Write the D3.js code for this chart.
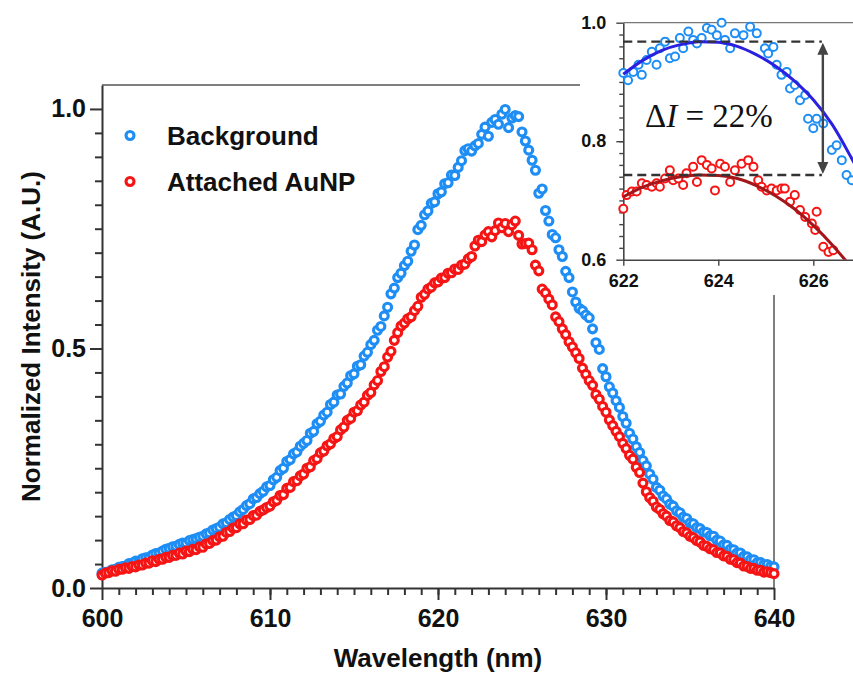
<!DOCTYPE html>
<html>
<head>
<meta charset="utf-8">
<script src="https://cdn.jsdelivr.net/npm/d3@7"></script>
<style>
  body { margin: 0; background: #fff; }
  svg { display: block; }
  text { font-family: "Liberation Sans", Arial, sans-serif; font-weight: bold; fill: #111; }
</style>
</head>
<body>
<svg id="chart" width="853" height="675"></svg>
<script>
// ---------------------------------------------------------------------------
// Data
// ---------------------------------------------------------------------------
// spectra are sampled every 0.2 nm from 600 to 640 nm
const wavelength = d3.range(0, 201).map(i => 600 + i * 0.2);

const background = [
  0.031, 0.033, 0.034, 0.038, 0.039, 0.043, 0.045, 0.046, 0.051, 0.052,
  0.056, 0.056, 0.061, 0.063, 0.064, 0.069, 0.072, 0.073, 0.077, 0.081,
  0.083, 0.086, 0.087, 0.091, 0.094, 0.094, 0.099, 0.101, 0.103, 0.106,
  0.108, 0.113, 0.115, 0.121, 0.124, 0.127, 0.134, 0.136, 0.143, 0.148,
  0.151, 0.159, 0.164, 0.172, 0.176, 0.186, 0.189, 0.197, 0.202, 0.211,
  0.214, 0.226, 0.231, 0.245, 0.250, 0.264, 0.268, 0.280, 0.284, 0.296,
  0.302, 0.308, 0.323, 0.327, 0.343, 0.348, 0.361, 0.367, 0.383, 0.388,
  0.403, 0.405, 0.421, 0.428, 0.443, 0.447, 0.463, 0.466, 0.484, 0.492,
  0.508, 0.517, 0.538, 0.546, 0.568, 0.586, 0.614, 0.626, 0.648, 0.657,
  0.673, 0.682, 0.703, 0.716, 0.748, 0.757, 0.779, 0.787, 0.803, 0.806,
  0.823, 0.827, 0.844, 0.846, 0.862, 0.861, 0.878, 0.892, 0.913, 0.917,
  0.912, 0.923, 0.928, 0.947, 0.962, 0.943, 0.972, 0.978, 0.968, 0.989,
  0.999, 0.961, 0.981, 0.986, 0.984, 0.952, 0.933, 0.914, 0.893, 0.872,
  0.824, 0.833, 0.788, 0.766, 0.738, 0.731, 0.706, 0.692, 0.661, 0.648,
  0.618, 0.597, 0.584, 0.579, 0.570, 0.564, 0.541, 0.512, 0.498, 0.458,
  0.441, 0.420, 0.407, 0.391, 0.377, 0.358, 0.344, 0.323, 0.311, 0.295,
  0.283, 0.266, 0.255, 0.238, 0.227, 0.210, 0.204, 0.192, 0.186, 0.175,
  0.171, 0.161, 0.157, 0.148, 0.145, 0.136, 0.134, 0.126, 0.124, 0.117,
  0.116, 0.109, 0.108, 0.100, 0.098, 0.090, 0.089, 0.081, 0.080, 0.073,
  0.073, 0.066, 0.065, 0.059, 0.059, 0.053, 0.053, 0.049, 0.049, 0.045,
  0.044
];

const attached = [
  0.027, 0.031, 0.032, 0.036, 0.035, 0.039, 0.039, 0.042, 0.041, 0.045,
  0.044, 0.048, 0.048, 0.052, 0.052, 0.057, 0.055, 0.060, 0.060, 0.064,
  0.064, 0.068, 0.068, 0.073, 0.071, 0.077, 0.076, 0.081, 0.080, 0.086,
  0.085, 0.092, 0.093, 0.099, 0.100, 0.107, 0.108, 0.116, 0.118, 0.125,
  0.126, 0.134, 0.134, 0.142, 0.143, 0.151, 0.152, 0.160, 0.163, 0.168,
  0.171, 0.180, 0.183, 0.193, 0.195, 0.208, 0.210, 0.222, 0.224, 0.234,
  0.238, 0.250, 0.253, 0.266, 0.270, 0.282, 0.286, 0.297, 0.301, 0.312,
  0.316, 0.330, 0.336, 0.350, 0.354, 0.367, 0.370, 0.382, 0.388, 0.402,
  0.408, 0.424, 0.433, 0.452, 0.462, 0.482, 0.494, 0.517, 0.533, 0.547,
  0.553, 0.562, 0.566, 0.579, 0.588, 0.607, 0.613, 0.624, 0.628, 0.637,
  0.639, 0.647, 0.648, 0.657, 0.658, 0.666, 0.665, 0.674, 0.676, 0.687,
  0.692, 0.714, 0.726, 0.723, 0.737, 0.744, 0.733, 0.746, 0.762, 0.752,
  0.761, 0.744, 0.758, 0.766, 0.736, 0.718, 0.719, 0.720, 0.706, 0.674,
  0.662, 0.624, 0.616, 0.603, 0.591, 0.566, 0.556, 0.541, 0.529, 0.514,
  0.503, 0.491, 0.479, 0.459, 0.446, 0.433, 0.423, 0.404, 0.394, 0.379,
  0.367, 0.351, 0.339, 0.327, 0.316, 0.302, 0.291, 0.277, 0.269, 0.252,
  0.241, 0.219, 0.201, 0.189, 0.181, 0.169, 0.164, 0.155, 0.150, 0.141,
  0.138, 0.130, 0.126, 0.118, 0.115, 0.108, 0.105, 0.099, 0.096, 0.089,
  0.087, 0.082, 0.080, 0.074, 0.073, 0.067, 0.066, 0.060, 0.059, 0.053,
  0.052, 0.046, 0.045, 0.041, 0.041, 0.037, 0.037, 0.033, 0.034, 0.032,
  0.030
];

// zoomed inset (622-627 nm), finer sampling
const insetBgWl = [622.00, 622.10, 622.21, 622.32, 622.39, 622.49, 622.60, 622.70, 622.77, 622.88,
  622.98, 623.09, 623.19, 623.26, 623.37, 623.47, 623.55, 623.65, 623.76, 623.86,
  623.97, 624.07, 624.14, 624.25, 624.35, 624.53, 624.67, 624.81, 624.98, 625.05,
  625.16, 625.23, 625.33, 625.44, 625.51, 625.61, 625.72, 625.83, 625.89, 626.00,
  626.07, 626.21, 626.39, 626.49, 626.60, 626.70, 626.81];
const insetBg = [0.915, 0.903, 0.917, 0.929, 0.912, 0.937, 0.951, 0.929, 0.957, 0.968,
  0.940, 0.943, 0.974, 0.957, 0.985, 0.971, 0.965, 0.974, 0.991, 0.988,
  0.979, 1.000, 0.971, 0.957, 0.982, 0.979, 0.993, 0.982, 0.957, 0.948,
  0.959, 0.929, 0.912, 0.917, 0.889, 0.895, 0.869, 0.878, 0.838, 0.822,
  0.838, 0.830, 0.785, 0.793, 0.768, 0.743, 0.734];

const insetAuWl = [622.00, 622.07, 622.18, 622.28, 622.39, 622.49, 622.60, 622.70, 622.77, 622.88,
  622.98, 623.05, 623.16, 623.26, 623.33, 623.47, 623.55, 623.65, 623.76, 623.86,
  623.93, 624.04, 624.14, 624.25, 624.35, 624.49, 624.63, 624.74, 624.84, 624.91,
  625.02, 625.12, 625.23, 625.33, 625.40, 625.51, 625.61, 625.72, 625.83, 625.97,
  626.04, 626.07, 626.21, 626.32, 626.42];
const insetAu = [0.686, 0.709, 0.715, 0.715, 0.729, 0.726, 0.723, 0.729, 0.723, 0.737,
  0.751, 0.734, 0.737, 0.726, 0.746, 0.757, 0.731, 0.768, 0.760, 0.754,
  0.717, 0.762, 0.757, 0.731, 0.751, 0.762, 0.768, 0.757, 0.734, 0.723,
  0.717, 0.720, 0.717, 0.720, 0.720, 0.698, 0.709, 0.684, 0.672, 0.661,
  0.650, 0.681, 0.622, 0.613, 0.616];

// fitted curves in the inset
const fitWl = [622.0, 622.4, 622.8, 623.2, 623.6, 624.0, 624.4, 624.8, 625.2, 625.6, 626.0, 626.4, 626.8, 627.0];
const fitBg = [0.913, 0.936, 0.953, 0.963, 0.968, 0.967, 0.960, 0.946, 0.927, 0.902, 0.870, 0.828, 0.772, 0.742];
const fitAu = [0.706, 0.722, 0.733, 0.740, 0.743, 0.742, 0.737, 0.725, 0.708, 0.686, 0.658, 0.625, 0.587, 0.567];

const peakBg = 0.968, peakAu = 0.743, deltaEnd = 626.18;

const xTicks = [600, 610, 620, 630, 640];
const yTicks = [0, 0.5, 1.0];
const insetXTicks = [622, 624, 626];
const insetYTicks = [0.6, 0.8, 1.0];

const seriesNames = ['Background', 'Attached AuNP'];
const blue = '#1e8ef5', red = '#f51515';
const fitBlue = '#2a20e0', fitRed = '#a3161a';

// ---------------------------------------------------------------------------
// Main chart
// ---------------------------------------------------------------------------
const svg = d3.select('#chart');

const x = d3.scaleLinear().domain([600, 640]).range([102, 774]);
const y = d3.scaleLinear().domain([0, 1.05]).range([588, 85]);

// frame (top / right)
svg.append('path')
  .attr('d', `M${x(600)},${y(1.05)}H${x(640)}V${y(0)}`)
  .attr('fill', 'none').attr('stroke', '#555').attr('stroke-width', 1.5);

function styleAxis(g, fontSize) {
  g.selectAll('.domain').attr('stroke', '#333').attr('stroke-width', 2);
  g.selectAll('.tick line').attr('stroke', '#333').attr('stroke-width', 2);
  g.selectAll('.tick text')
    .attr('fill', '#111').style('font-size', fontSize + 'px')
    .style('font-family', '"Liberation Sans", Arial, sans-serif').style('font-weight', 'bold');
}

// minor ticks
svg.append('g').attr('transform', `translate(0,${y(0)})`)
  .call(d3.axisBottom(x).tickValues(d3.range(601, 640)).tickSize(7).tickFormat(''))
  .call(g => { g.select('.domain').remove(); styleAxis(g, 0); });
svg.append('g').attr('transform', `translate(${x(600)},0)`)
  .call(d3.axisLeft(y).tickValues(d3.range(1, 20).map(i => i * 0.05)).tickSize(7).tickFormat(''))
  .call(g => { g.select('.domain').remove(); styleAxis(g, 0); });

// major axes
svg.append('g').attr('transform', `translate(0,${y(0)})`)
  .call(d3.axisBottom(x).tickValues(xTicks).tickSize(12).tickSizeOuter(0).tickPadding(9).tickFormat(d3.format('d')))
  .call(g => styleAxis(g, 25));
svg.append('g').attr('transform', `translate(${x(600)},0)`)
  .call(d3.axisLeft(y).tickValues(yTicks).tickSize(12).tickSizeOuter(0).tickPadding(4).tickFormat(d3.format('.1f')))
  .call(g => styleAxis(g, 25));

// axis titles
svg.append('text')
  .attr('x', (x(600) + x(640)) / 2).attr('y', 667)
  .attr('text-anchor', 'middle').style('font-size', '26px')
  .text('Wavelength (nm)');
svg.append('text')
  .attr('transform', `translate(40,${(y(0) + y(1.05)) / 2}) rotate(-90)`)
  .attr('text-anchor', 'middle').style('font-size', '26px')
  .text('Normalized Intensity (A.U.)');

// data points
const bgPts = wavelength.map((w, i) => ({ w, v: background[i] }));
const auPts = wavelength.map((w, i) => ({ w, v: attached[i] }));

function drawRings(g, data, sx, sy, color, r, sw) {
  g.selectAll(null).data(data).join('circle')
    .attr('cx', d => sx(d.w)).attr('cy', d => sy(d.v)).attr('r', r)
    .attr('fill', '#fff').attr('stroke', color).attr('stroke-width', sw);
}
const plot = svg.append('g');
drawRings(plot.append('g'), bgPts, x, y, blue, 4, 3.1);
drawRings(plot.append('g'), auPts, x, y, red, 4, 3.1);

// legend
const legend = svg.append('g');
[blue, red].forEach((c, i) => {
  const cy = 135.5 + i * 46;
  legend.append('circle').attr('cx', 130).attr('cy', cy).attr('r', 4)
    .attr('fill', '#fff').attr('stroke', c).attr('stroke-width', 3.1);
  legend.append('text').attr('x', 167).attr('y', cy + 9)
    .style('font-size', '26px').text(seriesNames[i]);
});

// ---------------------------------------------------------------------------
// Inset
// ---------------------------------------------------------------------------
const inset = svg.append('g');
inset.append('rect').attr('x', 580).attr('y', 0).attr('width', 273).attr('height', 295).attr('fill', '#fff');

const ix = d3.scaleLinear().domain([622, 627]).range([623.3, 860.8]);
const iy = d3.scaleLinear().domain([0.6, 1.0]).range([259.7, 22.7]);

inset.append('line')
  .attr('x1', ix(622)).attr('x2', 853).attr('y1', iy(1.0)).attr('y2', iy(1.0))
  .attr('stroke', '#777').attr('stroke-width', 1.3);

function styleInset(g, fontSize) {
  g.selectAll('.domain').attr('stroke', '#444').attr('stroke-width', 1.6);
  g.selectAll('.tick line').attr('stroke', '#444').attr('stroke-width', 1.4);
  g.selectAll('.tick text')
    .attr('fill', '#111').style('font-size', fontSize + 'px')
    .style('font-family', '"Liberation Sans", Arial, sans-serif').style('font-weight', 'bold');
}
inset.append('g').attr('transform', `translate(${ix(622)},0)`)
  .call(d3.axisLeft(iy).tickValues(d3.range(1, 20).map(i => 0.6 + i * 0.02)).tickSize(4).tickFormat(''))
  .call(g => { g.select('.domain').remove(); styleInset(g, 0); });
inset.append('g').attr('transform', `translate(${ix(622)},0)`)
  .call(d3.axisLeft(iy).tickValues(insetYTicks).tickSize(7).tickSizeOuter(0).tickPadding(10).tickFormat(d3.format('.1f')))
  .call(g => styleInset(g, 18));
inset.append('g').attr('transform', `translate(0,${iy(0.6)})`)
  .call(d3.axisBottom(ix).tickValues(insetXTicks).tickSize(6).tickSizeOuter(0).tickPadding(9).tickFormat(d3.format('d')))
  .call(g => styleInset(g, 18));

inset.append('clipPath').attr('id', 'inset-clip')
  .append('rect').attr('x', 612).attr('y', 12).attr('width', 250).attr('height', iy(0.6) - 12);
const iplot = inset.append('g').attr('clip-path', 'url(#inset-clip)');

drawRings(iplot.append('g'), insetBgWl.map((w, i) => ({ w, v: insetBg[i] })), ix, iy, blue, 4, 2);
drawRings(iplot.append('g'), insetAuWl.map((w, i) => ({ w, v: insetAu[i] })), ix, iy, red, 4, 2);

const fitLine = d3.line().x(d => ix(d.w)).y(d => iy(d.v)).curve(d3.curveMonotoneX);
iplot.append('path').datum(fitWl.map((w, i) => ({ w, v: fitBg[i] })))
  .attr('d', fitLine).attr('fill', 'none').attr('stroke', fitBlue).attr('stroke-width', 3);
iplot.append('path').datum(fitWl.map((w, i) => ({ w, v: fitAu[i] })))
  .attr('d', fitLine).attr('fill', 'none').attr('stroke', fitRed).attr('stroke-width', 3);

// dashed peak levels + double arrow
[peakBg, peakAu].forEach(p => {
  inset.append('line')
    .attr('x1', ix(622)).attr('x2', ix(deltaEnd)).attr('y1', iy(p)).attr('y2', iy(p))
    .attr('stroke', '#333').attr('stroke-width', 2.4).attr('stroke-dasharray', '9,5');
});
const arrowX = ix(deltaEnd) + 1, arrowTop = iy(peakBg) + 1, arrowBot = iy(peakAu) - 1;
inset.append('line').attr('x1', arrowX).attr('x2', arrowX).attr('y1', arrowTop + 10).attr('y2', arrowBot - 10)
  .attr('stroke', '#444').attr('stroke-width', 2.4);
inset.append('path')
  .attr('d', `M${arrowX},${arrowTop}l-5.5,12h11z M${arrowX},${arrowBot}l-5.5,-12h11z`)
  .attr('fill', '#444');

const dl = inset.append('text').attr('x', 645).attr('y', 127)
  .style('font-family', '"Liberation Serif", "DejaVu Serif", serif').style('font-weight', 'normal')
  .style('font-size', '33px').attr('fill', '#3c3c3c');
dl.append('tspan').text('Δ');
dl.append('tspan').style('font-style', 'italic').text('I');
dl.append('tspan').text(' = 22%');
</script>
</body>
</html>
